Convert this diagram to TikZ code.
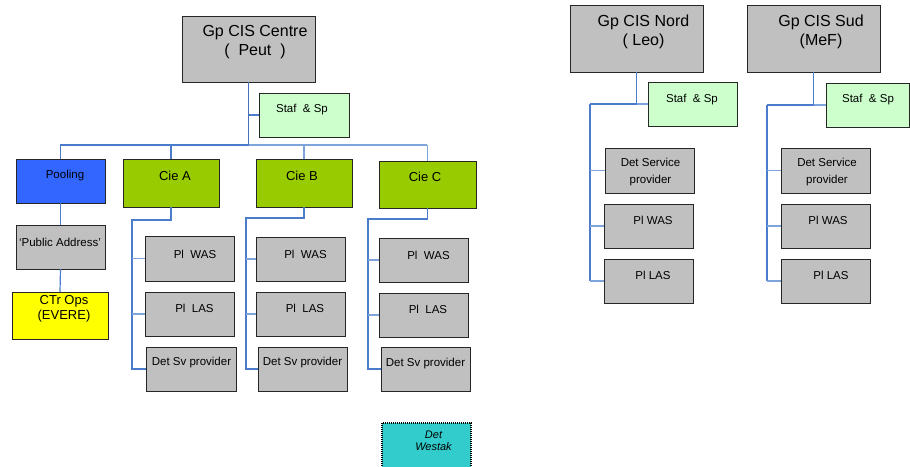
\documentclass[tikz,border=0pt]{standalone}
\usepackage{fontspec}
\setmainfont{Liberation Sans}
\definecolor{gry}{HTML}{C0C0C0}
\definecolor{lgreen}{HTML}{CCFFCC}
\definecolor{cgreen}{HTML}{99CC00}
\definecolor{pblue}{HTML}{3366FF}
\definecolor{yel}{HTML}{FFFF00}
\definecolor{tealw}{HTML}{33CCCC}
\definecolor{lnk}{HTML}{4A7CCB}
\definecolor{lnkl}{HTML}{7FA4DC}
\newcommand\bx[6]{\node[box,fill=#2,minimum width={#5-#3},minimum height={#6-#4}] (#1) at ({(#3+#5)/2},{(#4+#6)/2}) {};}
\begin{document}
\begin{tikzpicture}[x=1pt,y=-1pt,
  box/.style={draw=black!85,line width=0.9pt,inner sep=0pt,outer sep=0pt},
  txt/.style={inner sep=0pt,align=center,font=\fontsize{11.5}{17}\selectfont},
  mid/.style={inner sep=0pt,align=center,font=\fontsize{13}{15}\selectfont},
  big/.style={inner sep=0pt,align=center,font=\fontsize{16}{19}\selectfont},
  conn/.style={draw=lnk,line width=1.2pt},
  connl/.style={draw=lnkl,line width=1.2pt},
  trunk/.style={draw=lnk!90!black,line width=1.8pt},
  dotbox/.style={draw=black,line width=2pt,dash pattern=on 1pt off 1pt,inner sep=0pt,outer sep=0pt}]
\useasboundingbox (0,0) rectangle (910,466);
\clip (0,0) rectangle (910,466);
% ---------- Centre group ----------
\bx{centre}{gry}{182}{16}{315}{82}
\node[big] (centreT) at (255,42) {Gp CIS Centre\\(\ \ Peut\ \ )};
\bx{stafC}{lgreen}{259}{93}{349}{137}
\node[txt] (stafCT) at (302,110) {Staf\ \ \& Sp};
\bx{pool}{pblue}{16}{159}{105}{203}
\node[txt] (poolT) at (65,176) {Pooling};
\bx{cieA}{cgreen}{123}{159}{219}{207}
\node[mid] (cieAT) at (175,176) {Cie A};
\bx{cieB}{cgreen}{256}{159}{352}{207}
\node[mid] (cieBT) at (302,176) {Cie B};
\bx{cieC}{cgreen}{379}{161}{476}{208}
\node[mid] (cieCT) at (425,177) {Cie C};
\bx{pa}{gry}{16}{225}{105}{269}
\node[txt] (paT) at (60,242) {‘Public Address’};
\bx{ctr}{yel}{12}{292}{108}{339}
\node[mid] (ctrT) at (64,308.5) {CTr Ops\\(EVERE)};
\bx{wasA}{gry}{145}{236}{234}{281}
\node[txt] (wasAT) at (195,254) {Pl\ \ WAS};
\bx{lasA}{gry}{145}{292}{234}{336}
\node[txt] (lasAT) at (194.5,308) {Pl\ \ LAS};
\bx{detA}{gry}{146}{347}{236}{391}
\node[txt] (detAT) at (191.5,363) {Det Sv provider};
\bx{wasB}{gry}{256}{237}{345}{281}
\node[txt] (wasBT) at (305.5,254) {Pl\ \ WAS};
\bx{lasB}{gry}{256}{292}{345}{336}
\node[txt] (lasBT) at (305,308) {Pl\ \ LAS};
\bx{detB}{gry}{258}{347}{347}{391}
\node[txt] (detBT) at (302.5,363) {Det Sv provider};
\bx{wasC}{gry}{379}{238}{468}{282}
\node[txt] (wasCT) at (428.5,255) {Pl\ \ WAS};
\bx{lasC}{gry}{379}{293}{468}{337}
\node[txt] (lasCT) at (428,309) {Pl\ \ LAS};
\bx{detC}{gry}{381}{347}{470}{391}
\node[txt] (detCT) at (425.5,364) {Det Sv provider};
\node[dotbox,fill=tealw,minimum width=89,minimum height=52] (westak) at (426.5,449) {};
\node[inner sep=0pt,align=center,font=\fontsize{11}{12.5}\selectfont\itshape] (westakT) at (433.5,441) {Det\\Westak};
% centre connectors
\coordinate (barL) at (60,145);
\coordinate (barR) at (427,145);
\draw[trunk] (centre.south) -- (centre.south |- barL);
\draw[conn] (centre.south |- stafC.west) -- (stafC.west);
\draw[conn] (barL) -- (centre.south |- barL);
\draw[connl] (centre.south |- barL) -- (barR);
\draw[conn] (pool.north) -- (pool.north |- barL);
\draw[conn] (cieA.north) -- (cieA.north |- barL);
\draw[connl] (cieB.north) -- (cieB.north |- barL);
\draw[connl] (cieC.north) -- (cieC.north |- barL);
\draw[conn] (pool.south) -- (pa.north);
\draw[conn] (pa.south) -- (ctr.north);
% Cie A
\coordinate (railA) at (132,220);
\draw[conn] (cieA.south) |- (railA) -- (railA |- detA.west) -- (detA.west);
\draw[connl] (railA |- wasA.west) -- (wasA.west);
\draw[connl] (railA |- lasA.west) -- (lasA.west);
% Cie B
\coordinate (railB) at (246,218);
\draw[conn] (cieB.south) |- (railB) -- (railB |- detB.west) -- (detB.west);
\draw[connl] (railB |- wasB.west) -- (wasB.west);
\draw[connl] (railB |- lasB.west) -- (lasB.west);
% Cie C
\coordinate (railC) at (368,219);
\draw[conn] (cieC.south) |- (railC) -- (railC |- detC.west) -- (detC.west);
\draw[connl] (railC |- wasC.west) -- (wasC.west);
\draw[connl] (railC |- lasC.west) -- (lasC.west);
% ---------- Nord group ----------
\bx{nord}{gry}{570}{5}{703}{72}
\node[big] (nordT) at (643.5,32) {Gp CIS Nord\\(\ Leo)};
\bx{stafN}{lgreen}{648}{82}{737}{126}
\node[txt] (stafNT) at (692,100) {Staf\ \ \& Sp};
\bx{dsN}{gry}{605}{148}{694}{193}
\node[txt] (dsNT) at (650.5,172.5) {Det Service\\provider};
\bx{wasN}{gry}{604}{204}{693}{248}
\node[txt] (wasNT) at (653,220) {Pl WAS};
\bx{lasN}{gry}{604}{259}{693}{303}
\node[txt] (lasNT) at (653,275) {Pl LAS};
\coordinate (railN) at (590,104);
\draw[conn] (nord.south) -- (nord.south |- stafN.west);
\draw[connl] (nord.south |- stafN.west) -- (stafN.west);
\draw[conn] (railN) -- (nord.south |- railN);
\draw[conn] (railN) -- (railN |- lasN.west);
\draw[connl] (railN |- lasN.west) -- (lasN.west);
\draw[connl] (railN |- dsN.west) -- (dsN.west);
\draw[connl] (railN |- wasN.west) -- (wasN.west);
% ---------- Sud group ----------
\bx{sud}{gry}{747}{5}{880}{72}
\node[big] (sudT) at (821,32) {Gp CIS Sud\\(MeF)};
\bx{stafS}{lgreen}{826}{83}{909.5}{127}
\node[txt] (stafST) at (868,100) {Staf\ \ \& Sp};
\bx{dsS}{gry}{781}{148}{870}{193}
\node[txt] (dsST) at (827,172.5) {Det Service\\provider};
\bx{wasS}{gry}{781}{204}{870}{248}
\node[txt] (wasST) at (828,220) {Pl WAS};
\bx{lasS}{gry}{781}{259}{870}{303}
\node[txt] (lasST) at (831,275) {Pl LAS};
\coordinate (railS) at (767,105);
\draw[conn] (sud.south) -- (sud.south |- stafS.west);
\draw[connl] (sud.south |- stafS.west) -- (stafS.west);
\draw[conn] (railS) -- (sud.south |- railS);
\draw[conn] (railS) -- (railS |- lasS.west);
\draw[connl] (railS |- lasS.west) -- (lasS.west);
\draw[connl] (railS |- dsS.west) -- (dsS.west);
\draw[connl] (railS |- wasS.west) -- (wasS.west);
\end{tikzpicture}
\end{document}
